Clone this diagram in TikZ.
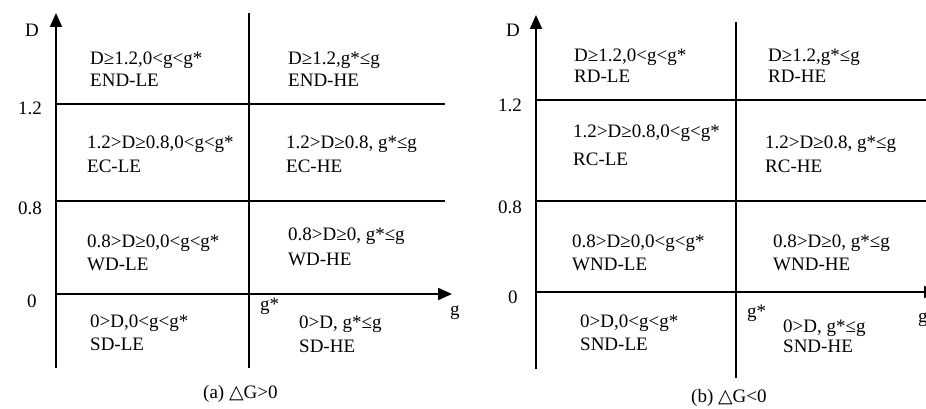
\documentclass[tikz,border=0pt]{standalone}
\usepackage{fontspec}
\setmainfont{Liberation Serif}
\newfontfamily\symfont{DejaVu Sans}
\usetikzlibrary{arrows.meta}
\begin{document}
\begin{tikzpicture}[x=1pt,y=-1pt,
  lbl/.style={anchor=base west,inner sep=0pt,font=\fontsize{19}{22}\selectfont},
  ax/.style={line width=2pt,-{Triangle[length=14pt,width=12pt]}},
  gl/.style={line width=1.7pt}]
\useasboundingbox (0,0) rectangle (926,409);
% ---------- panel (a)
\coordinate (aO) at (56,368); \coordinate (aT) at (56,13);
\coordinate (aX0) at (56,294); \coordinate (aX1) at (452,294);
\coordinate (aM0) at (249,13); \coordinate (aM1) at (249,368);
\coordinate (aA0) at (56,104); \coordinate (aA1) at (445,104);
\coordinate (aB0) at (56,201); \coordinate (aB1) at (445,201);
\draw[gl] (aM0) -- (aM1);
\draw[gl] (aA0) -- (aA1);
\draw[gl] (aB0) -- (aB1);
\draw[ax] (aO) -- (aT);
\draw[ax] (aX0) -- (aX1);
\node[lbl] (aD) at (25,37) {D};
\node[lbl] (a12) at (18,115) {1.2};
\node[lbl] (a08) at (18,214) {0.8};
\node[lbl] (a0) at (27,307) {0};
\node[lbl] (ags) at (260,310) {g*};
\node[lbl] (ag) at (450,315) {g};
\node[lbl] (a11) at (90,65) {D≥1.2,0<g<g*};
\node[lbl] (a11b) at (90,87) {END-LE};
\node[lbl] (a12r) at (288,65) {D≥1.2,g*≤g};
\node[lbl] (a12b) at (288,87) {END-HE};
\node[lbl] (a21) at (87,148) {1.2>D≥0.8,0<g<g*};
\node[lbl] (a21b) at (87,172) {EC-LE};
\node[lbl] (a22) at (286,148) {1.2>D≥0.8, g*≤g};
\node[lbl] (a22b) at (286,172) {EC-HE};
\node[lbl] (a31) at (87,247) {0.8>D≥0,0<g<g*};
\node[lbl] (a31b) at (87,270) {WD-LE};
\node[lbl] (a32) at (288,240) {0.8>D≥0, g*≤g};
\node[lbl] (a32b) at (288,265) {WD-HE};
\node[lbl] (a41) at (90,327) {0>D,0<g<g*};
\node[lbl] (a41b) at (90,350) {SD-LE};
\node[lbl] (a42) at (299,328) {0>D, g*≤g};
\node[lbl] (a42b) at (299,352) {SD-HE};
\node[lbl] (acap) at (203,398) {(a) {\symfont△}G>0};
% ---------- panel (b)
\coordinate (bO) at (536,369); \coordinate (bT) at (536,15);
\coordinate (bX0) at (536,292); \coordinate (bX1) at (938,292);
\coordinate (bM0) at (736,22); \coordinate (bM1) at (736,378);
\coordinate (bA0) at (536,100); \coordinate (bA1) at (926,100);
\coordinate (bB0) at (536,201); \coordinate (bB1) at (926,201);
\draw[gl] (bM0) -- (bM1);
\draw[gl] (bA0) -- (bA1);
\draw[gl] (bB0) -- (bB1);
\draw[ax] (bO) -- (bT);
\draw[ax] (bX0) -- (bX1);
\node[lbl] (bD) at (506,37) {D};
\node[lbl] (b12) at (498,112) {1.2};
\node[lbl] (b08) at (498,213) {0.8};
\node[lbl] (b0) at (508,303) {0};
\node[lbl] (bgs) at (747,317) {g*};
\node[lbl] (bg) at (918,322) {g};
\node[lbl] (b11) at (574,62) {D≥1.2,0<g<g*};
\node[lbl] (b11b) at (574,83) {RD-LE};
\node[lbl] (b12r) at (768,62) {D≥1.2,g*≤g};
\node[lbl] (b12b) at (768,83) {RD-HE};
\node[lbl] (b21) at (573,138) {1.2>D≥0.8,0<g<g*};
\node[lbl] (b21b) at (573,165) {RC-LE};
\node[lbl] (b22) at (765,148) {1.2>D≥0.8, g*≤g};
\node[lbl] (b22b) at (765,172) {RC-HE};
\node[lbl] (b31) at (572,247) {0.8>D≥0,0<g<g*};
\node[lbl] (b31b) at (572,270) {WND-LE};
\node[lbl] (b32) at (773,247) {0.8>D≥0, g*≤g};
\node[lbl] (b32b) at (773,270) {WND-HE};
\node[lbl] (b41) at (580,327) {0>D,0<g<g*};
\node[lbl] (b41b) at (580,350) {SND-LE};
\node[lbl] (b42) at (783,332) {0>D, g*≤g};
\node[lbl] (b42b) at (783,352) {SND-HE};
\node[lbl] (bcap) at (691,402) {(b) {\symfont△}G<0};
\end{tikzpicture}
\end{document}
